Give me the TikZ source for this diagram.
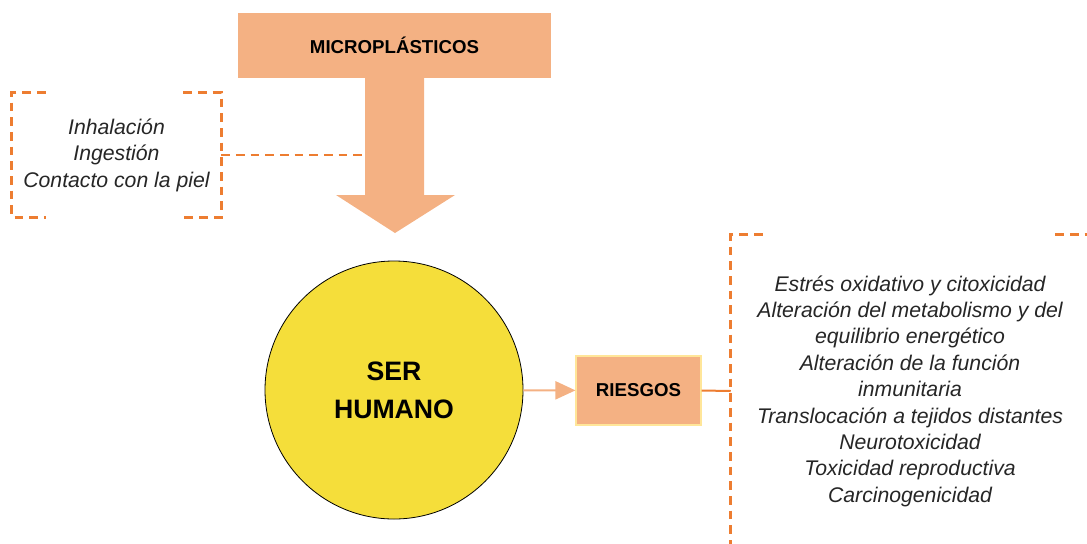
\documentclass[tikz,border=0pt]{standalone}
\usepackage{fontspec}
\setmainfont{Liberation Sans}
\usetikzlibrary{calc,arrows.meta}
\definecolor{salmon}{RGB}{244,177,131}
\definecolor{naranja}{RGB}{237,125,49}
\definecolor{amarillo}{RGB}{245,222,58}
\definecolor{bordeamarillo}{RGB}{255,230,153}
\definecolor{texto}{RGB}{38,38,38}
\newcommand{\pix}{0.75pt}
\tikzset{
  caja/.style={fill=salmon, text=black, font=\fontsize{14}{16}\selectfont\bfseries},
  lista/.style={align=center, text=texto, font=\fontsize{15.9}{19.8}\selectfont\itshape},
  punteado/.style={naranja, line width=1.9pt, dash pattern=on 6.5pt off 4.5pt},
}

\begin{document}
\begin{tikzpicture}[x=\pix,y=-\pix]
  \clip (0,0) rectangle (1087,543);

  % flecha en T
  \fill[salmon] (365,70) -- (365,195) -- (336,195) -- (395,233) -- (455,195)
    -- (424,195) -- (424,70) -- cycle;
  \node[caja, minimum width=313*\pix, minimum height=65*\pix] (micro) at (394.5,45.5) {MICROPLÁSTICOS};
  \coordinate (eje) at (365,155);

  % vias de entrada
  \node[lista, minimum width=209*\pix, minimum height=124*\pix] (vias) at (116.5,155)
    {Inhalación\\Ingestión\\Contacto con la piel};
  \draw[punteado] ($(vias.north west)+(34,0)$) -- (vias.north west) -- (vias.south west) -- ($(vias.south west)+(34,0)$);
  \draw[punteado] ($(vias.north east)+(-38,0)$) -- (vias.north east) -- (vias.south east) -- ($(vias.south east)+(-38,0)$);
  \draw[punteado] (vias.east) -- (eje);

  % ser humano y riesgos
  \node[circle, fill=amarillo, draw=black, line width=0.6pt, minimum size=258*\pix, align=center,
    font=\fontsize{20}{28.5}\selectfont\bfseries] (ser) at (394,390) {SER\\HUMANO};
  \node[caja, draw=bordeamarillo, line width=0.8pt, minimum width=125*\pix, minimum height=69*\pix] (riesgos) at (638.5,390.5) {RIESGOS};
  \draw[salmon, line width=1.5pt, -{Triangle[length=15pt,width=13.5pt]}] (ser) -- (riesgos);

  % efectos
  \node[lista, minimum width=358*\pix, minimum height=312*\pix] (efectos) at (910,391)
    {Estrés oxidativo y citoxicidad\\Alteración del metabolismo y del\\equilibrio energético\\
     Alteración de la función\\inmunitaria\\Translocación a tejidos distantes\\
     Neurotoxicidad\\Toxicidad reproductiva\\Carcinogenicidad};
  \draw[punteado] ($(efectos.north west)+(32,0)$) -- (efectos.north west) -- (efectos.south west);
  \draw[punteado] ($(efectos.north east)+(-34,0)$) -- (efectos.north east);
  \draw[naranja, line width=1.5pt] (riesgos.east) -- (efectos.west);
\end{tikzpicture}
\end{document}
